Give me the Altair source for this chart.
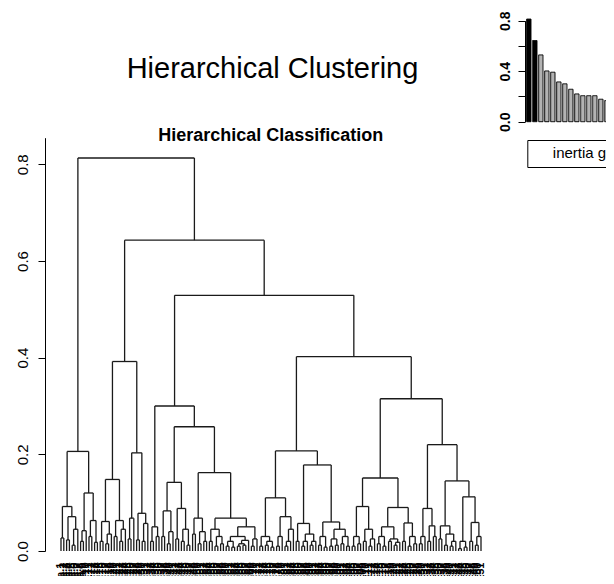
import re
import altair as alt
import pandas as pd

# ---------------- text ----------------
main_title = "Hierarchical Clustering"
sub_title = "Hierarchical Classification"
legend_label = "inertia gain"

# ---------------- dendrogram ----------------
# notation: "o" = leaf, "(L R)h" = merge of L and R at height h
clus_A = "(((oo)0.027((oo)0.023((oo)0.012o)0.045)0.071)0.092(((oo)0.02o)0.042((oo)0.03(oo)0.018)0.063)0.12)0.206"
clus_B = "((((oo)0.02((oo)0.015o)0.035)0.061((oo)0.03((oo)0.02o)0.045)0.063)0.148(((oo)0.025o)0.068((oo)0.023((oo)0.02o)0.057)0.078)0.203)0.392"
clus_C1 = "((oo)0.02(oo)0.03)0.05"
clus_C2a = "(((oo)0.03((oo)0.015o)0.04)0.083((oo)0.025((oo)0.02(oo)0.012)0.045)0.088)0.142"
clus_C2b_L = "((oo)0.035((oo)0.015(oo)0.02)0.04)0.068"
clus_C2b_RL = "((oo)0.02((oo)0.01(oo)0.015)0.03)0.045"
clus_C2b_RR = "((((oo)0.01(oo)0.008)0.02(((oo)0.01(oo)0.012)0.015o)0.022)0.03((oo)0.01o)0.025)0.05"
clus_D1 = "(((oo)0.01((oo)0.012(oo)0.008)0.02)0.03(((oo)0.01o)0.03(((oo)0.01o)0.02o)0.045)0.071)0.11"
clus_D2_L = "((oo)0.02(((oo)0.01o)0.02((oo)0.012o)0.02)0.035)0.057"
clus_D2_R = "(((oo)0.012(oo)0.008)0.03(((oo)0.01(oo)0.012)0.025((oo)0.015(oo)0.01)0.03)0.045)0.06"
clus_E_L = "(((oo)0.01(oo)0.015)0.03((oo)0.02((oo)0.01o)0.025)0.045)0.092"
clus_E_RL = "(((oo)0.015(oo)0.01)0.03((oo)0.02((oo)0.012o)0.018)0.025)0.05"
clus_E_RR = "((oo)0.02((oo)0.01(oo)0.015)0.03)0.058"
clus_F_L = "(((oo)0.015o)0.03((oo)0.02(oo)0.03)0.052)0.088"
clus_F_RL = "((oo)0.025((oo)0.012((oo)0.01o)0.02)0.035)0.052"
clus_F_RR = "(((oo)0.005(oo)0.008)0.02((oo)0.02((oo)0.012o)0.03)0.059)0.112"

clus_C = "({c1}({c2a}({c2bl}({c2brl}{c2brr})0.068)0.162)0.257)0.30".format(
    c1=clus_C1, c2a=clus_C2a, c2bl=clus_C2b_L, c2brl=clus_C2b_RL, c2brr=clus_C2b_RR)
clus_D = "({d1}({d2l}{d2r})0.178)0.207".format(d1=clus_D1, d2l=clus_D2_L, d2r=clus_D2_R)
clus_E = "({el}({erl}{err})0.09)0.151".format(el=clus_E_L, erl=clus_E_RL, err=clus_E_RR)
clus_F = "({fl}({frl}{frr})0.145)0.22".format(fl=clus_F_L, frl=clus_F_RL, frr=clus_F_RR)
tree = "({a}({b}({c}({d}({e}{f})0.315)0.402)0.529)0.643)0.813".format(
    a=clus_A, b=clus_B, c=clus_C, d=clus_D, e=clus_E, f=clus_F)

# ---------------- inset: inertia gain bars ----------------
gain_values = [0.813, 0.643, 0.529, 0.402, 0.392, 0.315, 0.30, 0.257,
               0.22, 0.206, 0.206, 0.206, 0.178, 0.167, 0.151]
n_dark_bars = 2

main_ticks = [0.0, 0.2, 0.4, 0.6, 0.8]
inset_ticks = [0.0, 0.2, 0.4, 0.6, 0.8]
inset_labelled = ["0.0", "0.4", "0.8"]


def layout_tree(s):
    pos = 0
    counter = [0]
    segs = []

    def node():
        nonlocal pos
        if s[pos] == "o":
            pos += 1
            x = counter[0]
            counter[0] += 1
            return float(x), 0.0
        pos += 1
        xa, ha = node()
        xb, hb = node()
        pos += 1
        m = re.match(r"\d+\.\d+", s[pos:])
        h = float(m.group())
        pos += m.end()
        segs.append((xa, h, xb, h))
        segs.append((xa, ha, xa, h))
        segs.append((xb, hb, xb, h))
        return (xa + xb) / 2, h

    node()
    return segs, counter[0]


segments, n_leaves = layout_tree(tree)
seg_df = pd.DataFrame(segments, columns=["x", "y", "x2", "y2"])
leaf_labels = ["Ch.Cha.%d" % (i + 1) for i in range(n_leaves)]
leaf_df = pd.DataFrame({"x": list(range(n_leaves)), "label": leaf_labels})

bar_df = pd.DataFrame({
    "idx": list(range(len(gain_values))),
    "gain": gain_values,
    "grp": ["cut" if i < n_dark_bars else "other" for i in range(len(gain_values))],
    "series": [legend_label] * len(gain_values),
})

FONT = "Liberation Sans"
x_scale = alt.Scale(domain=[0, n_leaves - 1], range=[16, 436], nice=False, zero=False)

dendro = alt.Chart(seg_df).mark_rule(color="#1a1a1a", strokeWidth=1.3).encode(
    x=alt.X("x:Q", scale=x_scale, axis=None),
    x2="x2:Q",
    y=alt.Y("y:Q", scale=alt.Scale(domain=[0, 0.855], range=[543, 129.7], nice=False, zero=True),
            axis=alt.Axis(orient="left", values=main_ticks, format=".1f", labelAngle=270,
                          labelAlign="center", labelBaseline="alphabetic", labelPadding=11,
                          tickSize=7, tickColor="black", domainColor="black", labelColor="black",
                          labelFont=FONT, labelFontSize=15, grid=False, title=None)),
    y2="y2:Q",
)

leaf_text = alt.Chart(leaf_df).mark_text(
    fontSize=11, font=FONT, fontWeight="bold", color="black", angle=270,
    align="right", baseline="middle"
).encode(x=alt.X("x:Q", scale=x_scale, axis=None), y=alt.value(554.5), text="label:N")

inset = alt.Chart(bar_df).mark_bar(stroke="black", strokeWidth=1).encode(
    x=alt.X("idx:O", scale=alt.Scale(range=[480, 571.68], paddingInner=0.28, paddingOuter=0.28),
            axis=None),
    y=alt.Y("gain:Q", scale=alt.Scale(domain=[0, 0.8], range=[113.7, 12.7], nice=False, zero=True),
            axis=alt.Axis(orient="left", offset=-480, values=inset_ticks, format=".1f",
                          labelExpr="indexof(%s, datum.label) >= 0 ? datum.label : ''" % str(inset_labelled),
                          labelAngle=270, labelAlign="center", labelBaseline="alphabetic",
                          labelPadding=9, tickSize=7, tickColor="black", domainColor="black",
                          labelColor="black", labelFont=FONT, labelFontSize=14,
                          labelFontWeight="bold", grid=False, title=None)),
    fill=alt.Fill("grp:N", scale=alt.Scale(domain=["cut", "other"], range=["black", "#b3b3b3"]),
                  legend=None),
    strokeDash=alt.StrokeDash("series:N", scale=alt.Scale(domain=[legend_label], range=[[1, 0]]),
                              legend=alt.Legend(orient="none", legendX=482.3, legendY=132,
                                                title=None, strokeColor="black", fillColor="white",
                                                padding=5.5, cornerRadius=0, labelFont=FONT,
                                                labelFontSize=15, labelColor="black",
                                                symbolSize=100, symbolOpacity=0,
                                                symbolStrokeWidth=0, labelOffset=5)),
)

title_df = pd.DataFrame({"t": [main_title]})
sub_df = pd.DataFrame({"t": [sub_title]})
title_text = alt.Chart(title_df).mark_text(
    font=FONT, fontSize=29, color="black", align="center", baseline="alphabetic"
).encode(x=alt.value(227.5), y=alt.value(70.3), text="t:N")
sub_text = alt.Chart(sub_df).mark_text(
    font=FONT, fontSize=18, fontWeight="bold", color="black", align="center", baseline="alphabetic"
).encode(x=alt.value(225.8), y=alt.value(132.7), text="t:N")

chart = alt.layer(dendro, leaf_text, inset, title_text, sub_text).resolve_scale(
    x="independent", y="independent"
).properties(
    width=561, height=568,
    autosize=alt.AutoSizeParams(type="none"),
    padding={"left": 37, "top": 0, "right": 0, "bottom": 0},
).configure_view(strokeWidth=0)

chart.save("out.html", embed_options={"renderer": "svg", "actions": False})
